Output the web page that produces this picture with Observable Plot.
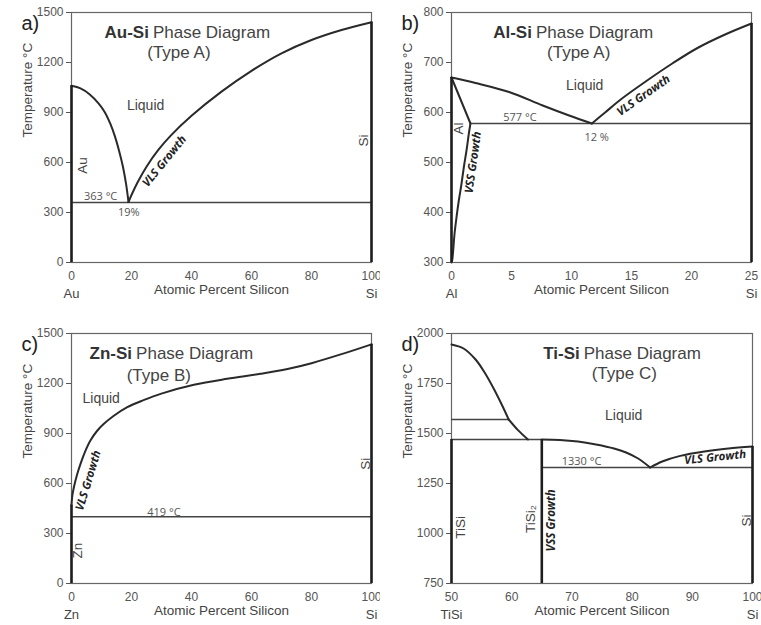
<!DOCTYPE html>
<html><head><meta charset="utf-8">
<script src="https://cdn.jsdelivr.net/npm/d3@7"></script>
<script src="https://cdn.jsdelivr.net/npm/@observablehq/plot@0.6"></script>
<style>
body{margin:0;background:#fff;}
#grid{display:grid;grid-template-columns:380px 381px;width:761px;}
#grid svg{display:block;overflow:visible;}
</style></head><body><div id="grid"></div>
<script>
// ---------- DATA ----------
// a) Au-Si
const auSiLiqAu = [[0,1060],[3,1045],[6,1010],[9,955],[11,905],[13,830],[14.5,755],[16,660],[17.2,570],[18.2,470],[19,363]];
const auSiLiqSi = [[19,363],[20,405],[22,480],[25,575],[29,677],[33,760],[40,880],[50,1025],[60,1150],[70,1255],[80,1335],[90,1395],[100,1442]];
const auSiEutectic = [{T:360, x1:0, x2:100}];
const auSiPure = [{x:0, y1:0, y2:1060}, {x:100, y1:0, y2:1442}];
const auSiYTicks = [0,300,600,900,1200,1500];
const auSiXTicks = [0,20,40,60,80,100];

// b) Al-Si
const alSiLiqAl = [[0,670],[2,659],[4.8,641],[7.6,614],[9.8,594],[11.7,578]];
const alSiLiqSi = [[11.7,578],[12.8,600],[14.1,626],[16.3,664],[18.4,698],[20.5,729],[22.8,756],[25,778]];
const alSiSolidus = [[0,670],[1.58,578]];
const alSiSolvus = [[1.58,578],[1.44,557],[1.25,524],[1.03,491],[0.83,457],[0.61,424],[0.42,391],[0.25,357],[0.14,324],[0.06,305],[0,300]];
const alSiEutectic = [{T:578, x1:1.58, x2:25}];
const alSiPure = [{x:0, y1:300, y2:670}, {x:25, y1:300, y2:778}];
const alSiYTicks = [300,400,500,600,700,800];
const alSiXTicks = [0,5,10,15,20,25];

// c) Zn-Si
const znSiLiq = [[0,470],[0.3,530],[0.8,578],[1.8,650],[3,718],[4.5,790],[6.3,858],[8.5,915],[10.8,958],[14,1005],[18.6,1058],[24,1100],[29.7,1138],[40.8,1192],[51.9,1228],[63,1258],[72,1287],[80,1322],[90,1376],[100,1435]];
const znSiEutectic = [{T:400, x1:0, x2:100}];
const znSiPure = [{x:0, y1:0, y2:470}, {x:100, y1:0, y2:1435}];
const znSiYTicks = [0,300,600,900,1200,1500];
const znSiXTicks = [0,20,40,60,80,100];

// d) Ti-Si
const tiSiLiqTi = [[50,1945],[52,1925],[54,1870],[55.5,1805],[57,1725],[58.5,1635],[59.5,1570]];
const tiSiLiqTi2 = [[59.5,1570],[61,1518],[62.7,1470]];
const tiSiLiqMid = [[65,1470],[68,1468],[71,1460],[74,1445],[77,1425],[79,1405],[81,1375],[83,1330]];
const tiSiLiqSi = [[83,1330],[85,1360],[88,1388],[92,1410],[96,1425],[100,1435]];
const tiSiRules = [{T:1570, x1:50, x2:59.5}, {T:1470, x1:50, x2:65}, {T:1330, x1:65, x2:100}];
const tiSiPure = [{x:50, y1:750, y2:1470}, {x:65, y1:750, y2:1470}, {x:100, y1:750, y2:1435}];
const tiSiYTicks = [750,1000,1250,1500,1750,2000];
const tiSiXTicks = [50,60,70,80,90,100];

// annotations (data-space anchors)
const auSiNotes = {letter:"a)", bold:"Au-Si", rest:"Phase Diagram", sub:"(Type A)", title:[25.8,1382], subAt:[35.8,1262],
  plain:[{x:24.7,y:942,t:"Liquid"}], rot:[{x:3.6,y:582,t:"Au"},{x:97.4,y:732,t:"Si"}],
  small:[{x:9.7,y:396,t:"363 °C"},{x:19.1,y:302,t:"19%"}], growth:[{x:31,y:608,t:"VLS Growth",r:-51}],
  ends:[{x:0,t:"Au"},{x:100,t:"Si"}]};
const alSiNotes = {letter:"b)", bold:"Al-Si", rest:"Phase Diagram", sub:"(Type A)", title:[6.7,760], subAt:[10.6,720],
  plain:[{x:11.1,y:654,t:"Liquid"}], rot:[{x:0.6,y:568,t:"Al"}],
  small:[{x:5.7,y:591,t:"577 °C"},{x:12.1,y:551,t:"12 %"}],
  growth:[{x:1.8,y:500,t:"VSS Growth",r:-82},{x:16.0,y:634,t:"VLS Growth",r:-35}],
  ends:[{x:0,t:"Al"},{x:25,t:"Si"}]};
const znSiNotes = {letter:"c)", bold:"Zn-Si", rest:"Phase Diagram", sub:"(Type B)", title:[20.2,1378], subAt:[29.1,1248],
  plain:[{x:9.9,y:1108,t:"Liquid"}], rot:[{x:2.1,y:198,t:"Zn"},{x:98,y:718,t:"Si"}],
  small:[{x:30.8,y:428,t:"419 °C"}], growth:[{x:5.6,y:618,t:"VLS Growth",r:-73}],
  ends:[{x:0,t:"Zn"},{x:100,t:"Si"}]};
const tiSiNotes = {letter:"d)", bold:"Ti-Si", rest:"Phase Diagram", sub:"(Type C)", title:[71.3,1898], subAt:[78.7,1798],
  plain:[{x:78.6,y:1590,t:"Liquid"}], rot:[{x:51.6,y:1031,t:"TiSi"},{x:63.1,y:1073,t:"TiSi₂"},{x:99.1,y:1065,t:"Si"}],
  small:[{x:71.6,y:1360,t:"1330 °C"}],
  growth:[{x:66.6,y:1065,t:"VSS Growth",r:-90},{x:93.8,y:1381,t:"VLS Growth",r:-6}],
  ends:[{x:50,t:"TiSi"},{x:100,t:"Si"}]};

// ---------- DRAW ----------
const SANS = "Liberation Sans, Arial, sans-serif";
const MYR = "Open Sans, Noto Sans, sans-serif";
const X = d => d[0], Y = d => d[1];
const fmt = d => String(d);

function panel({curves, rules, pure, xTicks, yTicks, notes, top, height, width, right}) {
  const xd = [xTicks[0], xTicks[xTicks.length-1]];
  const yd = [yTicks[0], yTicks[yTicks.length-1]];
  const marks = [
    Plot.frame({stroke:"#666", strokeWidth:1.2}),
    Plot.axisY(yTicks, {tickSize:5, tickPadding:3, fontSize:12, color:"#555", label:null, tickFormat:fmt}),
    Plot.axisX(xTicks, {tickSize:0, tickPadding:9, fontSize:12, color:"#555", label:null, tickFormat:fmt}),
    Plot.text(notes.ends, {x:"x", y:() => yd[0], text:"t", dy:31, fontSize:13, fill:"#444"}),
    Plot.text(["Atomic Percent Silicon"], {frameAnchor:"bottom", dy:31, fontSize:13.5, fill:"#444"}),
    Plot.text(["Temperature °C"], {frameAnchor:"left", rotate:-90, dx:-44, fontSize:13.5, fill:"#444"}),
    Plot.text([notes.letter], {frameAnchor:"top-left", dx:-50, dy:3, fontSize:20, fill:"#222"}),
    ...rules.map(r => Plot.ruleY([r], {y:"T", x1:"x1", x2:"x2", stroke:"#444", strokeWidth:1.5})),
    ...curves.map(c => Plot.line(c, {x:X, y:Y, curve:"catmull-rom", stroke:"#2a2a2a", strokeWidth:2})),
    Plot.ruleX(pure, {x:"x", y1:"y1", y2:"y2", stroke:"#1e1e1e", strokeWidth:2.6}),
    Plot.text([notes], {x:d=>d.title[0], y:d=>d.title[1], text:"bold", textAnchor:"end", fontWeight:"bold", fontSize:17, fill:"#333"}),
    Plot.text([notes], {x:d=>d.title[0], y:d=>d.title[1], text:"rest", textAnchor:"start", dx:4, fontSize:17, fill:"#444"}),
    Plot.text([notes], {x:d=>d.subAt[0], y:d=>d.subAt[1], text:"sub", fontSize:17, fill:"#444"}),
    Plot.text(notes.plain, {x:"x", y:"y", text:"t", fontSize:14, fill:"#444"}),
    Plot.text(notes.rot, {x:"x", y:"y", text:"t", rotate:-90, fontSize:13.5, fill:"#444"}),
    Plot.text(notes.small, {x:"x", y:"y", text:"t", fontSize:11, fill:"#555", fontFamily:MYR}),
    ...notes.growth.map(g => Plot.text([g], {x:"x", y:"y", text:"t", rotate:g.r, fontSize:11.5, fontWeight:"bold", fontStyle:"italic", fill:"#222", fontFamily:MYR}))
  ];
  return Plot.plot({
    width, height, marginLeft:71, marginRight:right, marginTop:top, marginBottom:height-top-250,
    x:{domain:xd}, y:{domain:yd},
    style:{fontFamily:SANS, background:"#fff", overflow:"visible"},
    marks
  });
}

const grid = document.getElementById("grid");
grid.append(
  panel({curves:[auSiLiqAu, auSiLiqSi], rules:auSiEutectic, pure:auSiPure, xTicks:auSiXTicks, yTicks:auSiYTicks, notes:auSiNotes, top:12, height:305, width:380, right:9}),
  panel({curves:[alSiLiqAl, alSiLiqSi, alSiSolidus, alSiSolvus], rules:alSiEutectic, pure:alSiPure, xTicks:alSiXTicks, yTicks:alSiYTicks, notes:alSiNotes, top:12, height:305, width:381, right:10}),
  panel({curves:[znSiLiq], rules:znSiEutectic, pure:znSiPure, xTicks:znSiXTicks, yTicks:znSiYTicks, notes:znSiNotes, top:28, height:320, width:380, right:9}),
  panel({curves:[tiSiLiqTi, tiSiLiqTi2, tiSiLiqMid, tiSiLiqSi], rules:tiSiRules, pure:tiSiPure, xTicks:tiSiXTicks, yTicks:tiSiYTicks, notes:tiSiNotes, top:28, height:320, width:381, right:9})
);
</script></body></html>
